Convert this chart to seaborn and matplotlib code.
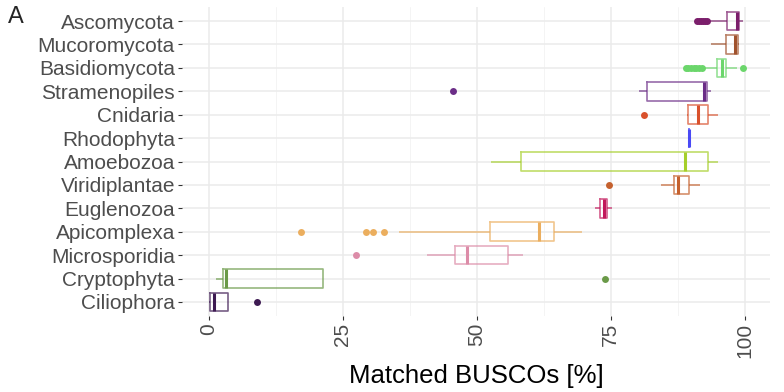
import matplotlib
matplotlib.use("Agg")
import matplotlib.pyplot as plt
import pandas as pd
import seaborn as sns

# phyla, top to bottom
phyla = ["Ascomycota", "Mucoromycota", "Basidiomycota", "Stramenopiles", "Cnidaria",
         "Rhodophyta", "Amoebozoa", "Viridiplantae", "Euglenozoa", "Apicomplexa",
         "Microsporidia", "Cryptophyta", "Ciliophora"]

colors = ["#7B1E6B", "#A0522D", "#6BD66B", "#6B2D87", "#D9512C",
          "#4A4AF5", "#A5CF2A", "#C5612E", "#C2185B", "#EBAE5E",
          "#DC8CA8", "#6A9A48", "#3D1A52"]

# matched BUSCOs [%] per assembly
ascomycota = [91.1, 91.4, 91.8, 92.2, 92.6, 93.0, 93.5,
              96.7, 97.0, 97.3, 97.6, 97.9, 98.2, 98.4,
              98.6, 98.65, 98.7, 98.75, 98.8, 98.85, 98.9,
              98.96, 99.0, 99.1, 99.2, 99.3, 99.4, 99.5, 99.6]
mucoromycota = [93.7, 96.45, 98.1, 98.8, 99.0]
basidiomycota = [89.0, 89.5, 90.0, 90.5, 91.0, 91.5, 92.0, 92.3,
                 94.8, 95.0, 95.1, 95.2, 95.3, 95.4, 95.5, 95.6,
                 95.8, 95.9, 96.0, 96.1, 96.2, 96.3, 96.4, 96.5,
                 96.6, 96.8, 97.0, 97.3, 97.6, 97.9, 98.2, 98.6, 99.7]
stramenopiles = [45.6, 80.3, 81.8, 90.0, 92.4, 92.6, 92.9, 93.3, 93.7]
cnidaria = [81.2, 89.2, 89.5, 90.3, 91.2, 92.0, 93.1, 94.0, 95.1]
rhodophyta = [89.7, 89.7, 89.7]
amoebozoa = [52.6, 58.3, 88.8, 93.1, 95.1]
viridiplantae = [74.7, 84.3, 86.8, 87.2, 87.6, 88.6, 89.6, 90.6, 91.7]
euglenozoa = [72.0, 73.0, 73.8, 74.3, 75.2]
apicomplexa = [17.2, 29.4, 30.7, 32.8, 35.5,
               52.5, 55.0, 57.0, 59.0, 60.5,
               61.7, 62.3, 63.0, 63.6, 64.1,
               64.5, 65.5, 66.5, 67.5, 68.5, 69.6]
microsporidia = [27.5, 40.7, 46.0, 47.0, 48.2, 52.0, 55.8, 57.0, 58.7]
cryptophyta = [1.4, 2.0, 2.6, 3.0, 3.3, 12.0, 21.3, 21.3, 73.9]
ciliophora = [0.0, 0.1, 0.2, 0.6, 1.0, 2.5, 3.6, 3.6, 9.0]

values = [ascomycota, mucoromycota, basidiomycota, stramenopiles, cnidaria,
          rhodophyta, amoebozoa, viridiplantae, euglenozoa, apicomplexa,
          microsporidia, cryptophyta, ciliophora]

xticks = [0, 25, 50, 75, 100]

rows = []
for name, vals in zip(phyla, values):
    for v in vals:
        rows.append({"phylum": name, "busco": v})
df = pd.DataFrame(rows)

sns.set_theme(style="whitegrid")
plt.rcParams["font.family"] = ["Liberation Sans", "DejaVu Sans"]

fig = plt.figure(figsize=(7.84, 3.92), dpi=100)
ax = fig.add_axes([0.232, 0.194, 0.75, 0.788])

sns.boxplot(data=df, x="busco", y="phylum", hue="phylum", order=phyla, hue_order=phyla,
            palette=dict(zip(phyla, colors)), fill=False, width=0.8, legend=False,
            showcaps=False, linewidth=1.2, ax=ax,
            boxprops=dict(alpha=0.7), whiskerprops=dict(alpha=0.7),
            medianprops=dict(linewidth=2.2),
            flierprops=dict(marker="o", markersize=5))

# filled outlier dots like ggplot
for ln in ax.lines:
    if ln.get_marker() == "o":
        ln.set_markerfacecolor(ln.get_markeredgecolor())
        ln.set_markeredgewidth(0)

ax.set_xlim(-5, 104.7)
ax.set_ylim(len(phyla) - 0.4, -0.6)
ax.set_xticks(xticks)
ax.set_xticks([12.5, 37.5, 62.5, 87.5], minor=True)
ax.set_xticklabels([str(t) for t in xticks], rotation=90, va="top")
ax.grid(True, which="major", color="#EBEBEB", linewidth=1.1)
ax.grid(True, which="minor", axis="x", color="#F2F2F2", linewidth=0.6)
for s in ax.spines.values():
    s.set_visible(False)
ax.tick_params(axis="both", which="major", labelsize=15, labelcolor="#4D4D4D",
               length=3, width=0.8, color="#333333", bottom=True, left=True, pad=2)
ax.tick_params(axis="x", which="minor", length=0)
ax.set_ylabel("")
ax.set_xlabel("Matched BUSCOs [%]", fontsize=18.5, color="black", labelpad=4)

fig.text(0.01, 0.985, "A", fontsize=17, va="top", ha="left")

fig.savefig("out.png", dpi=100)
